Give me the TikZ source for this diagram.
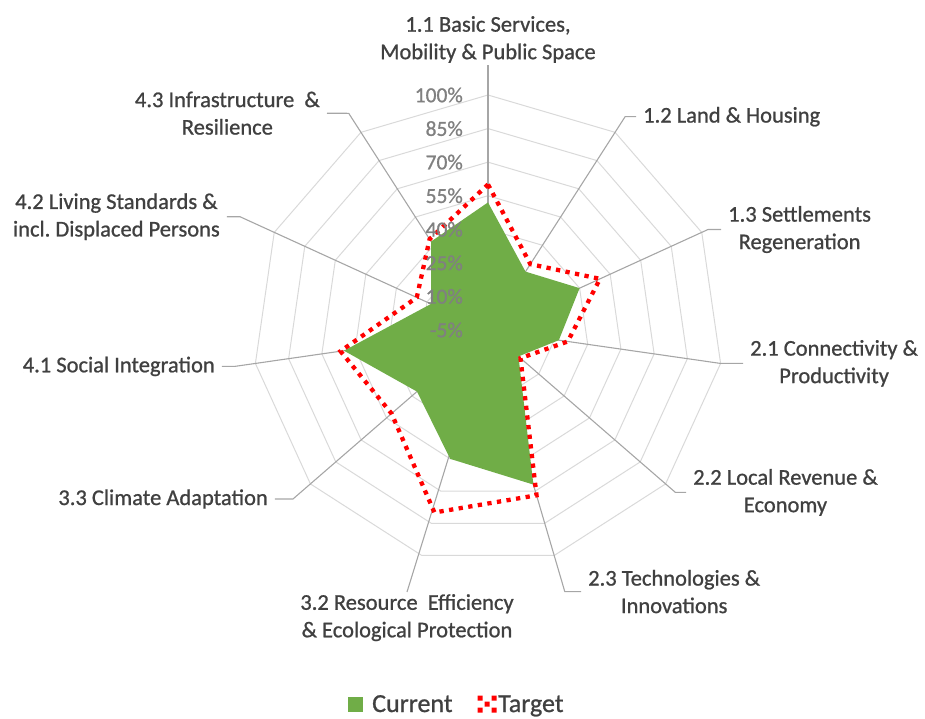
\documentclass[tikz,border=0pt]{standalone}
\usepackage{fontspec}
\setmainfont{Carlito}
\newfontfamily\chartfont{Carlito}[FakeBold=0.9]
\usepackage{tikz}
\usetikzlibrary{shapes.geometric}

\definecolor{ringgray}{HTML}{D9D9D9}
\definecolor{axisgray}{HTML}{A6A6A6}
\definecolor{labelgray}{HTML}{404040}
\definecolor{pctgray}{HTML}{808080}
\definecolor{currentgreen}{HTML}{70AD47}
\definecolor{targetred}{HTML}{FF0000}

\tikzset{
  ring/.style={regular polygon, regular polygon sides=11, draw=ringgray, line width=1pt, inner sep=0pt, outer sep=0pt},
  spoke/.style={draw=axisgray, line width=1.1pt},
  lbl/.style={text=labelgray, align=center, inner xsep=7pt, inner ysep=2pt, font=\chartfont\fontsize{22.5}{27.5}\selectfont},
  pct/.style={text=pctgray, anchor=east, inner sep=0pt, font=\chartfont\fontsize{21.5}{26}\selectfont},
  currentarea/.style={fill=currentgreen},
  targetline/.style={draw=targetred, line width=4.3pt, dash pattern=on 4.3pt off 5.4pt},
  legendtext/.style={text=labelgray, anchor=base west, inner sep=0pt, font=\chartfont\fontsize{26}{30}\selectfont}
}

\begin{document}
\begin{tikzpicture}[x=1pt,y=1pt]
\useasboundingbox (-488,-388) rectangle (437,330);
\coordinate (o) at (0,0);

% rings, every 15%
\node[ring, minimum size=67.14pt] (r10) at (o) {};
\node[ring, minimum size=134.29pt] (r25) at (o) {};
\node[ring, minimum size=201.43pt] (r40) at (o) {};
\node[ring, minimum size=268.57pt] (r55) at (o) {};
\node[ring, minimum size=335.71pt] (r70) at (o) {};
\node[ring, minimum size=402.86pt] (r85) at (o) {};
\node[ring, minimum size=470pt] (r100) at (o) {};

% axis labels
\node[lbl, anchor=south] (l11) at (0,265) {1.1 Basic Services,\\Mobility \& Public Space};
\node[lbl, anchor=west] (l12) at (148,213.3) {1.2 Land \& Housing};
\node[lbl, anchor=west] (l13) at (233,100.5) {1.3 Settlements\\Regeneration};
\node[lbl, anchor=west] (l21) at (255,-33.4) {2.1 Connectivity \&\\Productivity};
\node[lbl, anchor=west] (l22) at (198,-162.4) {2.2 Local Revenue \&\\Economy};
\node[lbl, anchor=west] (l23) at (93,-261.6) {2.3 Technologies \&\\Innovations};
\node[lbl, anchor=north] (l32) at (-81,-262) {3.2 Resource~ Efficiency\\\& Ecological Protection};
\node[lbl, anchor=east] (l33) at (-213,-169) {3.3 Climate Adaptation};
\node[lbl, anchor=east] (l41) at (-266,-36.4) {4.1 Social Integration};
\node[lbl, anchor=east] (l42) at (-261,113.3) {4.2 Living Standards \&\\incl.\ Displaced Persons};
\node[lbl, anchor=east] (l43) at (-161,216.8) {4.3 Infrastructure~ \&\\Resilience};

% leader bends
\coordinate (b12) at (57.27:253.6);
\coordinate (b13) at (24.55:242);
\coordinate (b21) at (-8.18:235);
\coordinate (b22) at (-40.91:248);
\coordinate (b23) at (-73.64:272.7);
\coordinate (b33) at (-139.09:258);
\coordinate (b41) at (-171.82:256);
\coordinate (b42) at (155.45:272.7);
\coordinate (b43) at (122.73:257.6);

% spokes
\draw[spoke] (o) -- (l11.south);
\draw[spoke] (o) -- (b12) -- (l12.west);
\draw[spoke] (o) -- (b13) -- (l13.west);
\draw[spoke] (o) -- (b21) -- (l21.west);
\draw[spoke] (o) -- (b22) -- (l22.west);
\draw[spoke] (o) -- (b23) -- (l23.west);
\draw[spoke] (o) -- (l32.north);
\draw[spoke] (o) -- (b33) -- (l33.east);
\draw[spoke] (o) -- (b41) -- (l41.east);
\draw[spoke] (o) -- (b42) -- (l42.east);
\draw[spoke] (o) -- (b43) -- (l43.east);

% Current
\fill[currentarea] (90:127.6) -- (57.27:69.4) -- (24.55:100.7) -- (-8.18:71.6) -- (-40.91:40.3) -- (-73.64:161.1)
  -- (-106.36:134.3) -- (-139.09:94) -- (-171.82:145.5) -- (155.45:62.7) -- (122.73:105.2) -- cycle;

% Target
\draw[targetline] (90:145.5) -- (57.27:78.3) -- (24.55:123.1) -- (-8.18:80.6) -- (-40.91:43) -- (-73.64:172.3)
  -- (-106.36:190.2) -- (-139.09:127.6) -- (-171.82:149) -- (155.45:78.3) -- (122.73:108) -- cycle;

% percentages
\node[pct] (p100) at (-25,235) {100\%};
\node[pct] (p85) at (-25,201.4) {85\%};
\node[pct] (p70) at (-25,167.9) {70\%};
\node[pct] (p55) at (-25,134.3) {55\%};
\node[pct] (p40) at (-25,100.7) {40\%};
\node[pct] (p25) at (-25,67.1) {25\%};
\node[pct] (p10) at (-25,33.6) {10\%};
\node[pct] (pm5) at (-25,0) {-5\%};

% legend
\node[fill=currentgreen, minimum size=15pt, inner sep=0pt] (kcur) at (-132.5,-374.5) {};
\node[legendtext] (tcur) at (-116,-382) {Current};
\fill[targetred] (-10.5,-365.5) rectangle ++(5,-5)
                 (3.5,-365.5) rectangle ++(5,-5)
                 (-3.5,-371.5) rectangle ++(5,-5)
                 (-10.5,-377.5) rectangle ++(5,-5)
                 (3.5,-377.5) rectangle ++(5,-5);
\node[legendtext] (ttar) at (10,-382) {Target};
\end{tikzpicture}
\end{document}
